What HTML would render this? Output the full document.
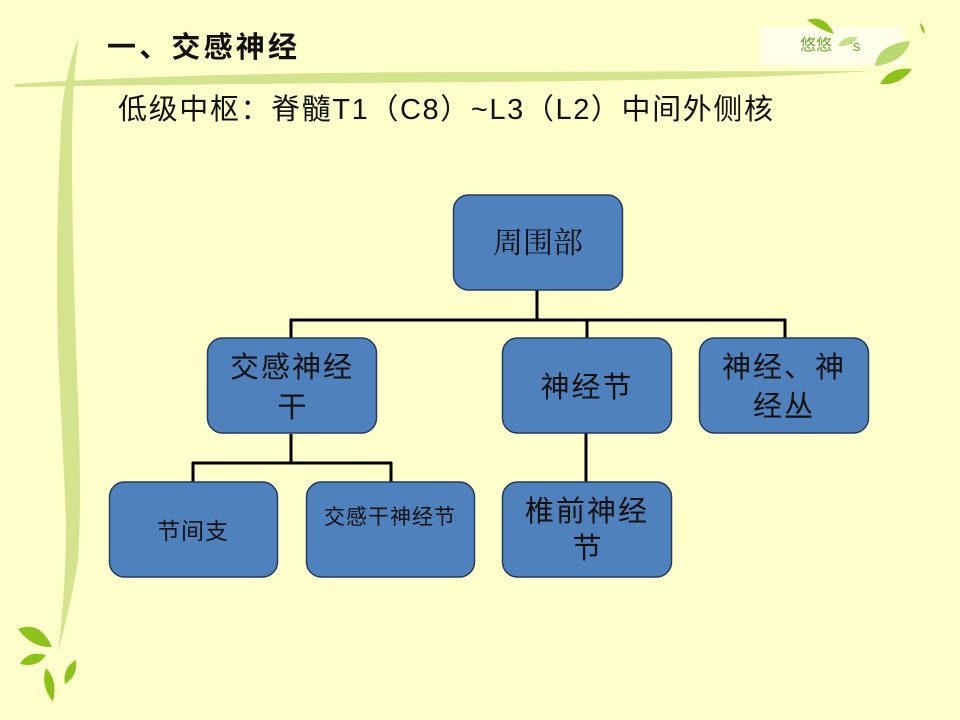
<!DOCTYPE html>
<html><head><meta charset="utf-8"><style>
html,body{margin:0;padding:0;background:#FFFFCC;}
svg{display:block;}
.t{font-family:"Liberation Sans","Noto Sans CJK SC",sans-serif;fill:#111;}
.s{font-family:"Liberation Serif","Noto Serif CJK SC",serif;fill:#111;}
</style></head><body>
<svg width="960" height="720" viewBox="0 0 960 720" xmlns="http://www.w3.org/2000/svg">
<rect width="960" height="720" fill="#FFFFCC"/>
<!-- stems -->
<path d="M15,84 Q200,72 480,72 Q740,71 870,71 Q740,80 480,82 Q200,84 15,87 Z" fill="#D3E38E"/>
<path d="M79,36 Q66,70 62,110 Q55,220 58,350 Q63,450 66,520 Q66,590 58,652 Q72,600 78,560 Q82,500 78,400 Q72,250 72,150 Q72,80 79,36 Z" fill="#D3E38E"/>
<!-- watermark box -->
<rect x="760" y="27" width="143" height="38" fill="#FFFFEE" opacity="0.85"/>
<text x="800" y="50" font-family="Liberation Sans,'Noto Sans CJK SC',sans-serif" font-size="16" fill="#6BA33A">悠悠</text>
<text x="850" y="51" font-family="Liberation Sans,sans-serif" font-size="15" fill="#6BA33A">'s</text>
<!-- top-right leaves -->
<path d="M807,20 Q825,14 834,34 Q820,30 807,20 Z" fill="#8CC21A"/>
<path d="M838,46 Q842,36 858,37 Q852,47 838,46 Z" fill="#B9D870" opacity="0.8"/>
<path d="M875,66 Q878,44 910,41 Q905,62 875,66 Z" fill="#B9D870"/>
<path d="M880,84 Q890,66 912,69 Q900,86 880,84 Z" fill="#8CC21A"/>
<path d="M920,23 Q926,28 924,34 Q920,28 920,23 Z" fill="#8CC21A"/>
<!-- bottom-left leaves -->
<path d="M18,629 Q40,620 52,647 Q32,648 18,629 Z" fill="#8CC21A"/>
<path d="M20,664 Q28,650 46,655 Q38,668 20,664 Z" fill="#8CC21A"/>
<path d="M53,702 Q40,685 46,668 Q58,680 53,702 Z" fill="#8CC21A"/>
<path d="M65,684 Q62,668 76,660 Q78,676 65,684 Z" fill="#8CC21A"/>
<!-- title -->
<text x="107" y="57" class="t" font-size="29" font-weight="bold" textLength="190" lengthAdjust="spacing">一、交感神经</text>
<text x="118" y="119" class="t" font-size="29" textLength="655" lengthAdjust="spacing">低级中枢：脊髓T1（C8）~L3（L2）中间外侧核</text>
<!-- connectors -->
<g stroke="#000" stroke-width="3" fill="none">
<line x1="537" y1="290" x2="537" y2="320"/>
<line x1="290" y1="320" x2="786" y2="320"/>
<line x1="291" y1="319" x2="291" y2="338"/>
<line x1="587" y1="319" x2="587" y2="338"/>
<line x1="785" y1="319" x2="785" y2="338"/>
<line x1="291" y1="434" x2="291" y2="463"/>
<line x1="192" y1="463" x2="392" y2="463"/>
<line x1="193" y1="462" x2="193" y2="482"/>
<line x1="391" y1="462" x2="391" y2="482"/>
<line x1="586" y1="433" x2="586" y2="482"/>
</g>
<!-- nodes -->
<g fill="#4F81BD" stroke="#243A5E" stroke-width="1.5">
<rect x="453.5" y="195" width="169" height="95" rx="15"/>
<rect x="207.5" y="338" width="169" height="95" rx="15"/>
<rect x="502.5" y="338" width="169" height="95" rx="15"/>
<rect x="699.5" y="338" width="169" height="95" rx="15"/>
<rect x="109.5" y="482" width="168" height="95" rx="15"/>
<rect x="306.5" y="482" width="168" height="95" rx="15"/>
<rect x="502.5" y="482" width="169" height="95" rx="15"/>
</g>
<text x="538" y="253" class="s" font-size="30" text-anchor="middle">周围部</text>
<text x="292" y="377" class="t" font-size="29" text-anchor="middle" letter-spacing="2">交感神经</text>
<text x="292" y="417" class="t" font-size="29" text-anchor="middle">干</text>
<text x="587" y="397" class="t" font-size="29" text-anchor="middle" letter-spacing="2">神经节</text>
<text x="784" y="377" class="t" font-size="29" text-anchor="middle" letter-spacing="2">神经、神</text>
<text x="784" y="416" class="t" font-size="29" text-anchor="middle" letter-spacing="2">经丛</text>
<text x="587" y="521" class="t" font-size="29" text-anchor="middle" letter-spacing="2">椎前神经</text>
<text x="587" y="558" class="t" font-size="29" text-anchor="middle">节</text>
<text x="193" y="539" class="t" font-size="23" text-anchor="middle" letter-spacing="1">节间支</text>
<text x="390" y="524" class="t" font-size="21" text-anchor="middle" letter-spacing="1">交感干神经节</text>
</svg>
</body></html>
